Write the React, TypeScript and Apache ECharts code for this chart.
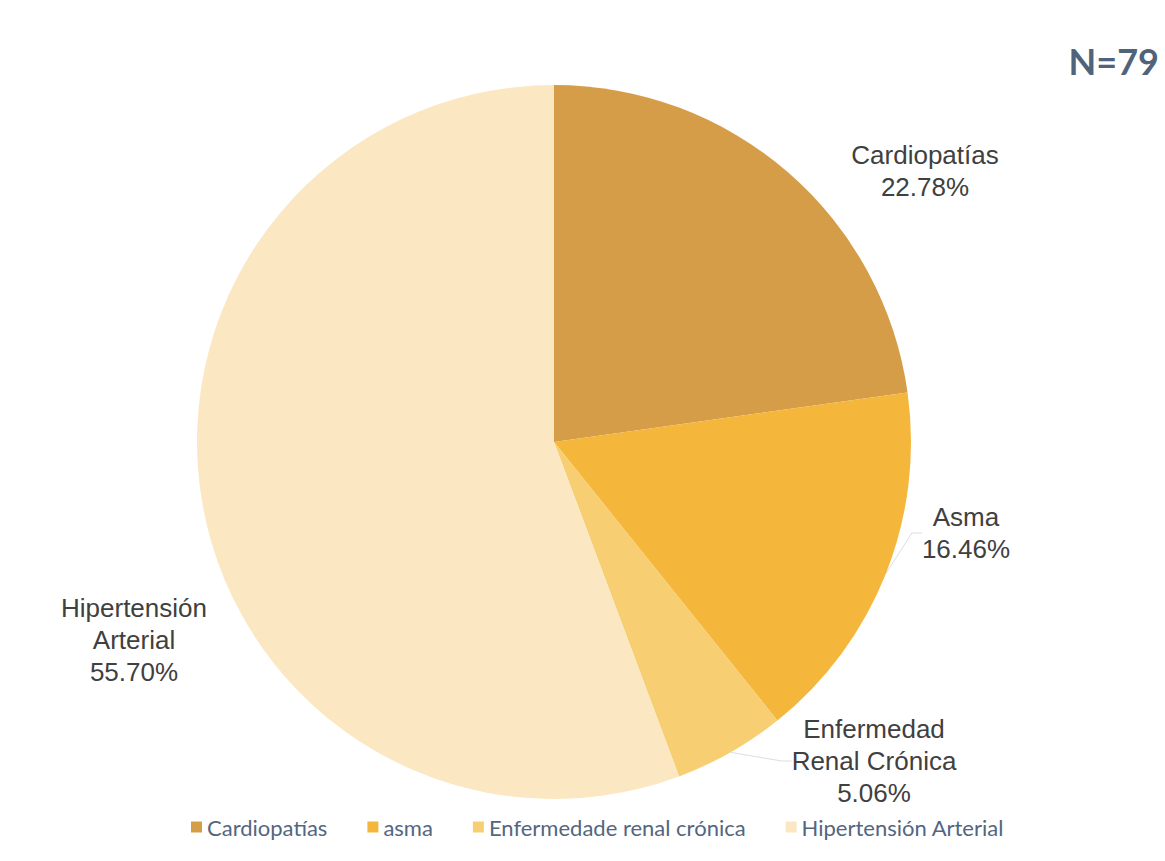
import React, { useEffect, useRef } from "react";
import * as echarts from "echarts";

const legendNames = ["Cardiopatías", "asma", "Enfermedade renal crónica", "Hipertensión Arterial"];
const labelNames = ["Cardiopatías", "Asma", "Enfermedad\nRenal Crónica", "Hipertensión\nArterial"];
const counts = [18, 13, 4, 44];
const colors = ["#D69D48", "#F4B63B", "#F8CE72", "#FBE7C2"];
const showLeader = [false, true, true, false];
const labelPos = [
  [925, 171],
  [966, 533],
  [874, 761],
  [134, 640],
];

export default function App() {
  const ref = useRef<HTMLDivElement>(null);
  useEffect(() => {
    document.body.style.margin = "0";
    const chart = echarts.init(ref.current!, null, { renderer: "svg" });
    chart.setOption({
      animation: false,
      backgroundColor: "#ffffff",
      title: {
        text: "N=79",
        right: 1,
        top: 38,
        textStyle: { fontFamily: "Lato", fontWeight: "bold", fontSize: 36, color: "#4F647C" },
      },
      legend: {
        top: 811,
        left: 186,
        icon: "rect",
        itemWidth: 11,
        itemHeight: 11,
        itemGap: 40,
        textStyle: { fontFamily: "Lato", fontSize: 22, color: "#53667F" },
        data: legendNames,
      },
      series: [
        {
          type: "pie",
          center: [554, 442],
          radius: 357,
          startAngle: 90,
          clockwise: true,
          percentPrecision: 2,
          label: {
            show: true,
            formatter: (p: any) => labelNames[p.dataIndex] + "\n" + p.percent.toFixed(2) + "%",
            fontFamily: "Liberation Sans",
            fontSize: 26,
            lineHeight: 32,
            color: "#404040",
            align: "center",
          },
          labelLine: {
            show: true,
            length: 10,
            length2: 10,
            lineStyle: { color: "#DDDDDD", width: 1 },
          },
          labelLayout: (params: any) => {
            const pos = labelPos[params.dataIndex];
            return { x: pos[0], y: pos[1], align: "center", verticalAlign: "middle" };
          },
          data: counts.map((v, i) => ({
            name: legendNames[i],
            value: v,
            itemStyle: { color: colors[i] },
            labelLine: { show: showLeader[i] },
          })),
        },
      ],
    });
    return () => chart.dispose();
  }, []);
  return <div ref={ref} style={{ width: 1165, height: 861 }} />;
}
